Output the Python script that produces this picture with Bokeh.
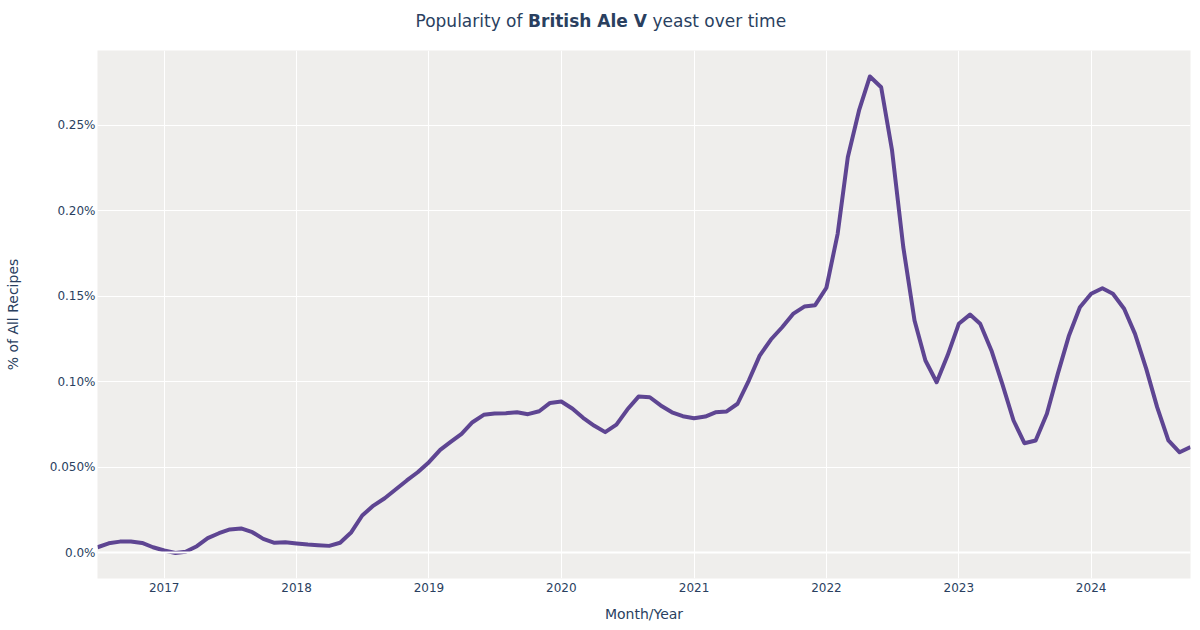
import pandas as pd
from bokeh.plotting import figure
from bokeh.layouts import column
from bokeh.models import FixedTicker, DatetimeTickFormatter, Range1d, Span
from bokeh.core.properties import value
from bokeh.embed import file_html
from bokeh.resources import INLINE

# ---- data ----
start_month = "2016-07-01"
popularity_pct = [
    0.0031, 0.0054, 0.0064, 0.0064, 0.0056, 0.0031,            # 2016 Jul-Dec
    0.0012, -0.0003, 0.0005, 0.0037, 0.0084, 0.0113,           # 2017 Jan-Jun
    0.0135, 0.0141, 0.0119, 0.0080, 0.0057, 0.0060,            # 2017 Jul-Dec
    0.0053, 0.0047, 0.0043, 0.0039, 0.0057, 0.0119,            # 2018 Jan-Jun
    0.0217, 0.0275, 0.0318, 0.0369, 0.0422, 0.0470,            # 2018 Jul-Dec
    0.0529, 0.0601, 0.0646, 0.0695, 0.0763, 0.0806,            # 2019 Jan-Jun
    0.0814, 0.0816, 0.0821, 0.0810, 0.0827, 0.0876,            # 2019 Jul-Dec
    0.0884, 0.0842, 0.0789, 0.0742, 0.0705, 0.0749,            # 2020 Jan-Jun
    0.0837, 0.0913, 0.0909, 0.0861, 0.0821, 0.0798,            # 2020 Jul-Dec
    0.0786, 0.0796, 0.0821, 0.0826, 0.0871, 0.1007,            # 2021 Jan-Jun
    0.1153, 0.1247, 0.1319, 0.1397, 0.1440, 0.1448,            # 2021 Jul-Dec
    0.1550, 0.1866, 0.2314, 0.2588, 0.2787, 0.2724,            # 2022 Jan-Jun
    0.2354, 0.1788, 0.1358, 0.1124, 0.0997, 0.1153,            # 2022 Jul-Dec
    0.1339, 0.1393, 0.1339, 0.1183, 0.0988, 0.0773,            # 2023 Jan-Jun
    0.0640, 0.0656, 0.0812, 0.1046, 0.1271, 0.1436,            # 2023 Jul-Dec
    0.1515, 0.1547, 0.1515, 0.1427, 0.1280, 0.1075,            # 2024 Jan-Jun
    0.0851, 0.0656, 0.0587, 0.0617,                            # 2024 Jul-Oct
]
months = pd.date_range(start_month, periods=len(popularity_pct), freq="MS")

year_ticks = [2017, 2018, 2019, 2020, 2021, 2022, 2023, 2024]
y_ticks = [0.0, 0.05, 0.10, 0.15, 0.20, 0.25]
y_tick_labels = ["0.0%", "0.050%", "0.10%", "0.15%", "0.20%", "0.25%"]

title_pre = "Popularity of"
title_bold = "British Ale V"
title_post = "yeast over time"

# ---- style ----
FONT = "DejaVu Sans"
TXT = "#2a3f5f"
BG = "#efeeec"
LINE = "#5e4592"

W = 1200
TITLE_H = 40
MAIN_H = 630 - TITLE_H
FRAME_L, FRAME_R = 97, 1190

# ---- title strip (mixed weights); its frame is aligned with the main frame ----
t = figure(width=W, height=TITLE_H, output_backend="svg", toolbar_location=None,
           x_range=Range1d(FRAME_L, FRAME_R), y_range=Range1d(TITLE_H, 0),
           min_border=0, min_border_left=0, min_border_right=0,
           min_border_top=0, min_border_bottom=0, title=None)
t.axis.visible = False
t.grid.visible = False
t.outline_line_color = None
t.background_fill_color = "white"
t.border_fill_color = "white"
base_y = 20
t.text(x=[587], y=[base_y], text=[title_bold], text_align="center",
       text_baseline="alphabetic", text_font=value(FONT), text_font_size="17px",
       text_font_style="bold", text_color=TXT)
t.text(x=[522], y=[base_y], text=[title_pre], text_align="right",
       text_baseline="alphabetic", text_font=value(FONT), text_font_size="17px",
       text_color=TXT)
t.text(x=[652], y=[base_y], text=[title_post], text_align="left",
       text_baseline="alphabetic", text_font=value(FONT), text_font_size="17px",
       text_color=TXT)

# ---- main chart ----
x_start = pd.Timestamp("2016-07-01")
x_end = pd.Timestamp("2024-10-01")

p = figure(width=W, height=MAIN_H, x_axis_type="datetime",
           output_backend="svg", toolbar_location=None, title=None,
           x_range=Range1d(x_start, x_end), y_range=Range1d(-0.0152, 0.2939),
           min_border_left=FRAME_L, min_border_right=W - FRAME_R, min_border_top=10,
           min_border_bottom=52)
p.background_fill_color = BG
p.border_fill_color = "white"
p.outline_line_color = None

p.xgrid.grid_line_color = "white"
p.ygrid.grid_line_color = "white"
p.xgrid.grid_line_width = 1
p.ygrid.grid_line_width = 1

p.add_layout(Span(location=0, dimension="width", line_color="white", line_width=2))

p.line(months, popularity_pct, line_color=LINE, line_width=4, line_join="round")

p.xaxis.ticker = FixedTicker(ticks=[pd.Timestamp(f"{y}-01-01").value / 1e6 for y in year_ticks])
p.xaxis.formatter = DatetimeTickFormatter(years="%Y", months="%Y", days="%Y", hours="%Y")
p.yaxis.ticker = FixedTicker(ticks=y_ticks)
p.yaxis.major_label_overrides = {tk: lb for tk, lb in zip(y_ticks, y_tick_labels)}

for ax in (p.xaxis[0], p.yaxis[0]):
    ax.axis_line_color = None
    ax.major_tick_line_color = None
    ax.minor_tick_line_color = None
    ax.major_tick_out = 0
    ax.major_tick_in = 0
    ax.minor_tick_out = 0
    ax.minor_tick_in = 0
    ax.major_label_text_font = FONT
    ax.major_label_text_font_size = "12px"
    ax.major_label_text_color = TXT
    ax.axis_label_text_font = FONT
    ax.axis_label_text_font_size = "14px"
    ax.axis_label_text_color = TXT
    ax.axis_label_text_font_style = "normal"

p.xaxis.axis_label = "Month/Year"
p.yaxis.axis_label = "% of All Recipes"
p.xaxis.major_label_standoff = 4
p.yaxis.major_label_standoff = 2
p.xaxis.axis_label_standoff = 11
p.yaxis.axis_label_standoff = 26

layout = column(t, p, spacing=0)
open("out.html", "w").write(file_html(layout, INLINE))
